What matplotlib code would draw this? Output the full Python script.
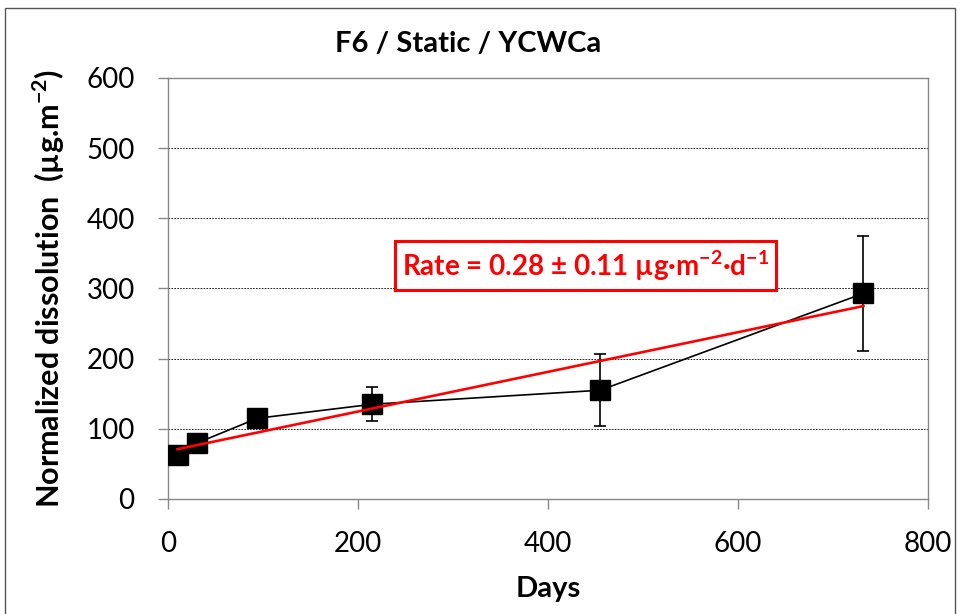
import matplotlib
matplotlib.use("Agg")
import matplotlib.pyplot as plt
from matplotlib.patches import Rectangle

plt.rcParams['font.family'] = ['Lato', 'DejaVu Sans']
plt.rcParams['mathtext.fontset'] = 'custom'
plt.rcParams['mathtext.rm'] = 'Lato'
plt.rcParams['mathtext.bf'] = 'Lato:bold'

# values
days = [10, 31, 94, 215, 455, 732]
dissolution = [62, 80, 115, 135, 155, 293]
err = [0, 0, 0, 24, 51, 82]
fit_days = [10, 732]
fit_vals = [71, 275]
xticks = [0, 200, 400, 600, 800]
yticks = [0, 100, 200, 300, 400, 500, 600]

fig = plt.figure(figsize=(9.6, 6.14), dpi=100)
ax = fig.add_axes([0.175, 0.1873, 0.7917, 0.6857])

# outer chart border
fig.patches.append(Rectangle((5 / 960, -0.01), 950 / 960, 1 - 8 / 614 + 0.01,
                             transform=fig.transFigure, fill=False,
                             edgecolor='#555555', linewidth=1.0))

ax.errorbar(days, dissolution, yerr=err, color='black', linewidth=1.2,
            marker='s', markersize=14, markerfacecolor='black',
            ecolor='black', elinewidth=1.2, capsize=4, capthick=1.2, zorder=3)
ax.plot(fit_days, fit_vals, color='red', linewidth=1.9, zorder=4)

ax.set_xlim(0, 800)
ax.set_ylim(0, 600)
ax.set_xticks(xticks)
ax.set_yticks(yticks)
ax.yaxis.grid(True, linestyle=(0, (2, 1.5)), color='black', linewidth=0.6)
ax.set_axisbelow(True)
for s in ax.spines.values():
    s.set_color('#888888')
    s.set_linewidth(1.0)
ax.tick_params(axis='both', labelsize=20, length=7, color='#888888', width=1.0)
ax.tick_params(axis='x', pad=16)
ax.tick_params(axis='y', pad=17)

ax.set_xlabel('Days', fontsize=21, fontweight='bold', labelpad=14)
ax.set_ylabel('Normalized dissolution  (µg.m$^{\\mathbf{-2}}$)', fontsize=22,
              fontweight='bold', labelpad=14)
fig.text(0.488, 0.928, 'F6 / Static / YCWCa', fontsize=21, fontweight='bold',
         ha='center', va='center')

ax.text(439, 333, 'Rate = 0.28 ± 0.11 µg·m$^{\\mathbf{-2}}$·d$^{\\mathbf{-1}}$',
        color='red', fontsize=20, fontweight='bold', ha='center', va='center',
        bbox=dict(boxstyle='square,pad=0.25', facecolor='white',
                  edgecolor='red', linewidth=2.2), zorder=5)

fig.savefig('out.png', dpi=100)
